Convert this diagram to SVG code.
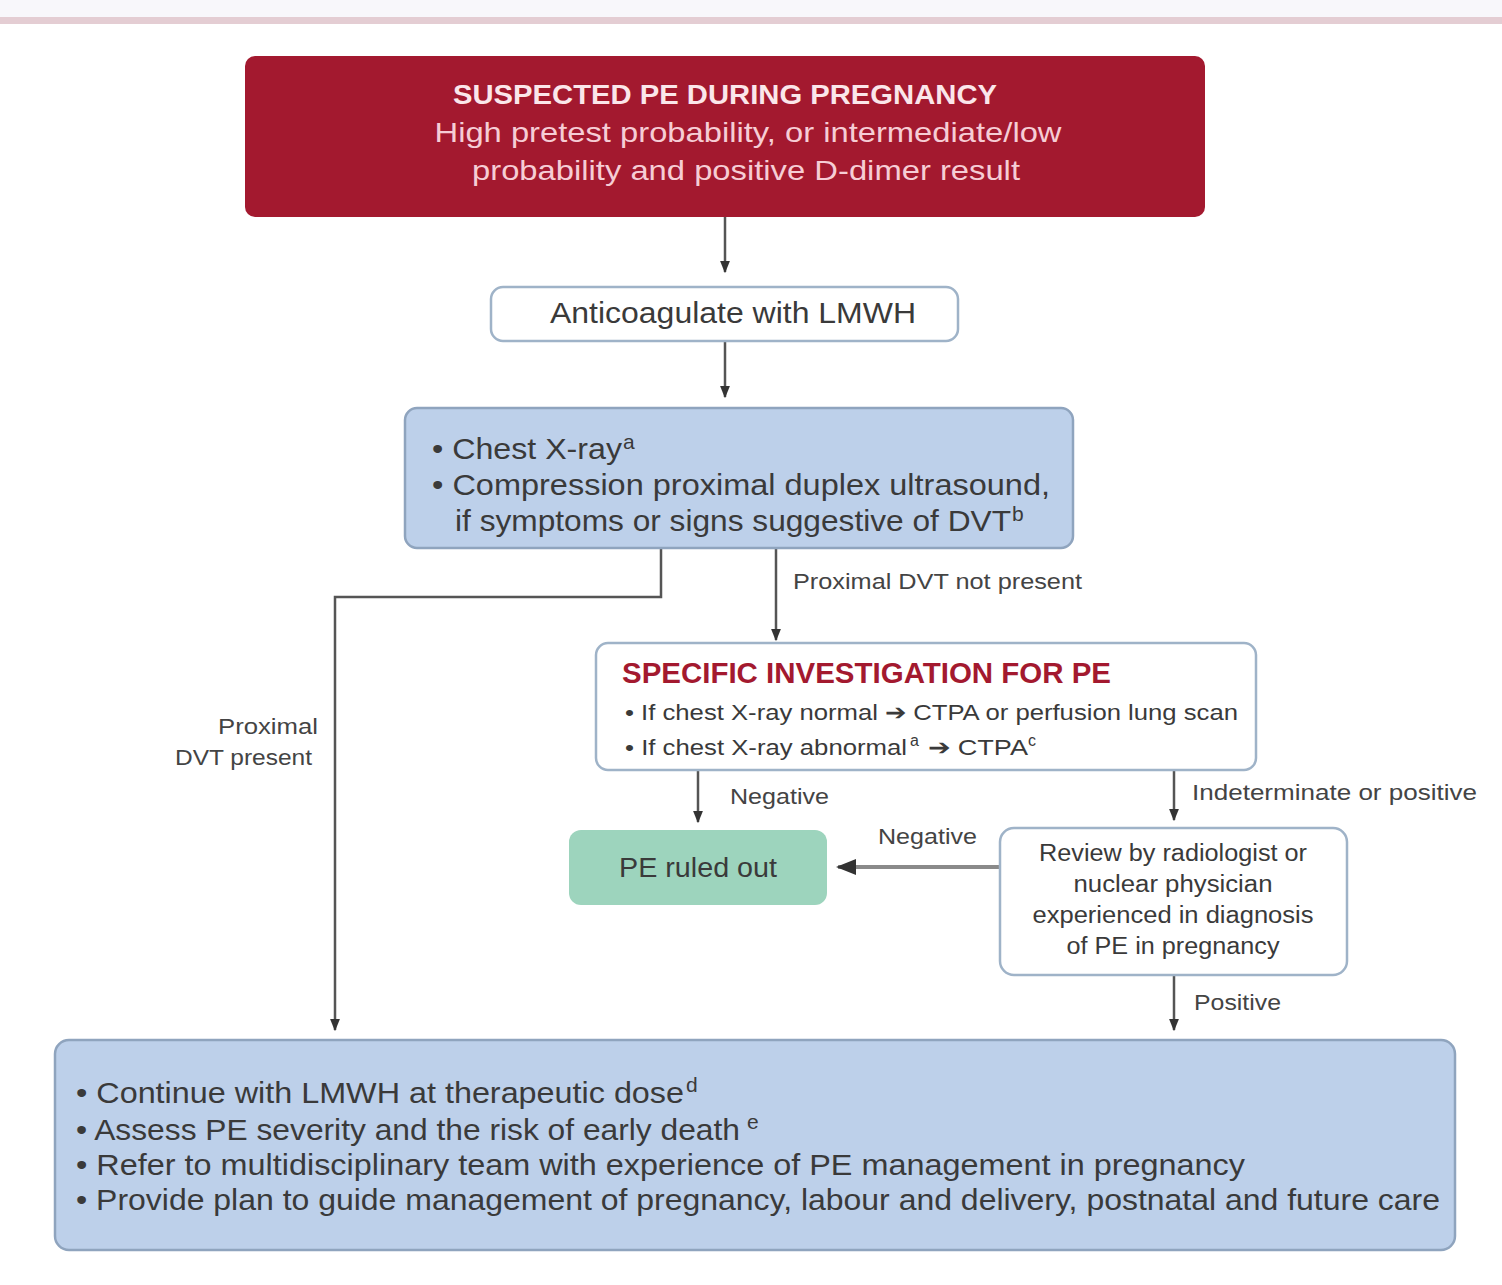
<svg xmlns="http://www.w3.org/2000/svg" width="1502" height="1285" viewBox="0 0 1502 1285">
<style>
text{font-family:"Liberation Sans Narrow","Liberation Sans",Arial,sans-serif;fill:#3a3a3a}
.lbl{font-size:22px;fill:#444}
.blue{fill:#bdd0ea;stroke:#8fa4be;stroke-width:2.5}
.white{fill:#fff;stroke:#9fb3c8;stroke-width:2.5}
.conn{fill:none;stroke:#555;stroke-width:2.5}
text.sup{font-size:21px}
text.sups{font-size:16px}
</style>
<defs>
<marker id="ah" viewBox="0 0 10 10" refX="9" refY="5" markerWidth="5" markerHeight="5" orient="auto" markerUnits="strokeWidth">
<path d="M0,1 L10,5 L0,9 z" fill="#333"/>
</marker>
</defs>
<rect x="0" y="0" width="1502" height="1285" fill="#fff"/>
<rect x="0" y="0" width="1502" height="17" fill="#f8f7fb"/>
<rect x="0" y="17" width="1502" height="7" fill="#e4cdd3"/>

<g id="connectors">
<line class="conn" x1="725" y1="217" x2="725" y2="272" marker-end="url(#ah)"/>
<line class="conn" x1="725" y1="341" x2="725" y2="397" marker-end="url(#ah)"/>
<polyline class="conn" points="661,548 661,597 335,597 335,1030" marker-end="url(#ah)"/>
<line class="conn" x1="776" y1="548" x2="776" y2="640" marker-end="url(#ah)"/>
<line class="conn" x1="698" y1="770" x2="698" y2="822" marker-end="url(#ah)"/>
<line class="conn" x1="1174" y1="770" x2="1174" y2="820" marker-end="url(#ah)"/>
<line x1="1000" y1="867" x2="838" y2="867" stroke="#8a8a8a" stroke-width="4" marker-end="url(#ah)"/>
<line class="conn" x1="1174" y1="975" x2="1174" y2="1030" marker-end="url(#ah)"/>
<text class="lbl" x="218" y="734" textLength="100" lengthAdjust="spacingAndGlyphs">Proximal</text>
<text class="lbl" x="175" y="765" textLength="137" lengthAdjust="spacingAndGlyphs">DVT present</text>
<text class="lbl" x="793" y="589" textLength="289" lengthAdjust="spacingAndGlyphs">Proximal DVT not present</text>
<text class="lbl" x="730" y="804" textLength="99" lengthAdjust="spacingAndGlyphs">Negative</text>
<text class="lbl" x="1192" y="800" textLength="285" lengthAdjust="spacingAndGlyphs">Indeterminate or positive</text>
<text class="lbl" x="878" y="844" textLength="99" lengthAdjust="spacingAndGlyphs">Negative</text>
<text class="lbl" x="1194" y="1010" textLength="87" lengthAdjust="spacingAndGlyphs">Positive</text>
</g>

<g id="suspected">
<rect x="245" y="56" width="960" height="161" rx="10" fill="#a3192f"/>
<text x="725" y="104" text-anchor="middle" font-size="27" font-weight="bold" style="fill:#fbe6ea" textLength="544" lengthAdjust="spacingAndGlyphs">SUSPECTED PE DURING PREGNANCY</text>
<text x="748" y="142" text-anchor="middle" font-size="28" style="fill:#f6cdd5" textLength="627" lengthAdjust="spacingAndGlyphs">High pretest probability, or intermediate/low</text>
<text x="746" y="180" text-anchor="middle" font-size="28" style="fill:#f6cdd5" textLength="548" lengthAdjust="spacingAndGlyphs">probability and positive D-dimer result</text>
</g>

<g id="anticoagulate">
<rect class="white" x="491" y="287" width="467" height="54" rx="12"/>
<text x="733" y="323" text-anchor="middle" font-size="29" textLength="366" lengthAdjust="spacingAndGlyphs">Anticoagulate with LMWH</text>
</g>

<g id="chestxray">
<rect class="blue" x="405" y="408" width="668" height="140" rx="12"/>
<text x="432" y="459" font-size="29" textLength="190" lengthAdjust="spacingAndGlyphs">• Chest X-ray</text>
<text class="sup" x="623" y="449">a</text>
<text x="432" y="495" font-size="29" textLength="618" lengthAdjust="spacingAndGlyphs">• Compression proximal duplex ultrasound,</text>
<text x="455" y="531" font-size="29" textLength="556" lengthAdjust="spacingAndGlyphs">if symptoms or signs suggestive of DVT</text>
<text class="sup" x="1012" y="521">b</text>
</g>

<g id="specific">
<rect class="white" x="596" y="643" width="660" height="127" rx="12"/>
<text x="622" y="683" font-size="29" font-weight="bold" style="fill:#a3192f" textLength="489" lengthAdjust="spacingAndGlyphs">SPECIFIC INVESTIGATION FOR PE</text>
<text x="625" y="720" font-size="22" textLength="613" lengthAdjust="spacingAndGlyphs">• If chest X-ray normal ➔ CTPA or perfusion lung scan</text>
<text x="625" y="755" font-size="22" textLength="282" lengthAdjust="spacingAndGlyphs">• If chest X-ray abnormal</text>
<text class="sups" x="910" y="746">a</text>
<text x="928" y="755" font-size="22" textLength="100" lengthAdjust="spacingAndGlyphs">➔ CTPA</text>
<text class="sups" x="1028" y="746">c</text>
</g>

<g id="ruledout">
<rect x="569" y="830" width="258" height="75" rx="12" fill="#9dd4bd"/>
<text x="698" y="877" text-anchor="middle" font-size="27" textLength="158" lengthAdjust="spacingAndGlyphs">PE ruled out</text>
</g>

<g id="review">
<rect class="white" x="1000" y="828" width="347" height="147" rx="14"/>
<text x="1173" y="861" text-anchor="middle" font-size="23" textLength="268" lengthAdjust="spacingAndGlyphs">Review by radiologist or</text>
<text x="1173" y="892" text-anchor="middle" font-size="23" textLength="199" lengthAdjust="spacingAndGlyphs">nuclear physician</text>
<text x="1173" y="923" text-anchor="middle" font-size="23" textLength="281" lengthAdjust="spacingAndGlyphs">experienced in diagnosis</text>
<text x="1173" y="954" text-anchor="middle" font-size="23" textLength="213" lengthAdjust="spacingAndGlyphs">of PE in pregnancy</text>
</g>

<g id="management">
<rect class="blue" x="55" y="1040" width="1400" height="210" rx="14"/>
<text x="76" y="1103" font-size="29" textLength="608" lengthAdjust="spacingAndGlyphs">• Continue with LMWH at therapeutic dose</text>
<text class="sup" x="686" y="1092">d</text>
<text x="76" y="1140" font-size="29" textLength="664" lengthAdjust="spacingAndGlyphs">• Assess PE severity and the risk of early death</text>
<text class="sup" x="747" y="1129">e</text>
<text x="76" y="1175" font-size="29" textLength="1169" lengthAdjust="spacingAndGlyphs">• Refer to multidisciplinary team with experience of PE management in pregnancy</text>
<text x="76" y="1210" font-size="29" textLength="1364" lengthAdjust="spacingAndGlyphs">• Provide plan to guide management of pregnancy, labour and delivery, postnatal and future care</text>
</g>
</svg>
